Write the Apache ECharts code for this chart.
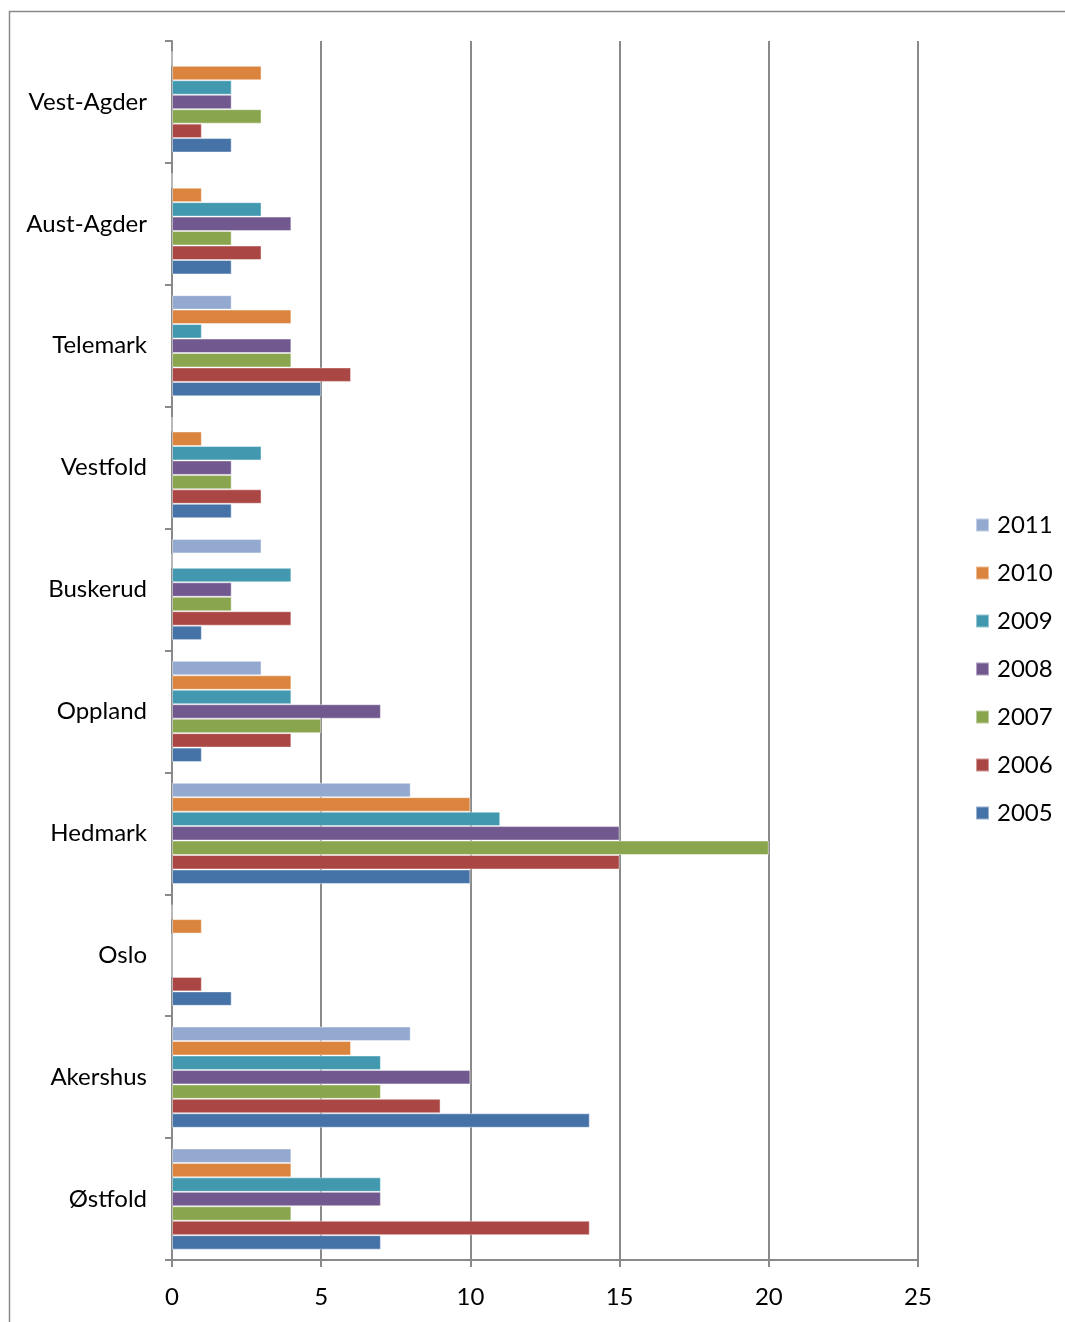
<!DOCTYPE html>
<html>
<head>
<meta charset="utf-8">
<script src="https://cdn.jsdelivr.net/npm/echarts@6/dist/echarts.min.js"></script>
<style>
  html, body { margin: 0; padding: 0; background: #fff; }
  #chart { width: 1065px; height: 1322px; }
</style>
</head>
<body>
<div id="chart"></div>
<script>
// Counties, listed from the bottom of the axis to the top
const regions = ['Østfold', 'Akershus', 'Oslo', 'Hedmark', 'Oppland', 'Buskerud', 'Vestfold', 'Telemark', 'Aust-Agder', 'Vest-Agder'];

// Yearly counts per county (same order as regions)
const y2005 = [7, 14, 2, 10, 1, 1, 2, 5, 2, 2];
const y2006 = [14, 9, 1, 15, 4, 4, 3, 6, 3, 1];
const y2007 = [4, 7, 0, 20, 5, 2, 2, 4, 2, 3];
const y2008 = [7, 10, 0, 15, 7, 2, 2, 4, 4, 2];
const y2009 = [7, 7, 0, 11, 4, 4, 3, 1, 3, 2];
const y2010 = [4, 6, 1, 10, 4, 0, 1, 4, 1, 3];
const y2011 = [4, 8, 0, 8, 3, 3, 0, 2, 0, 0];

const years = ['2005', '2006', '2007', '2008', '2009', '2010', '2011'];
const yearValues = [y2005, y2006, y2007, y2008, y2009, y2010, y2011];
const yearColors = ['#4572A7', '#AA4643', '#89A54E', '#71588F', '#4198AF', '#DB843D', '#93A9CF'];

const xTicks = { min: 0, max: 25, interval: 5 };

const FONT = 'Lato, "Open Sans", sans-serif';

// Within each county the newest year sits on top, so series are added newest first
const order = years.map((_, i) => i).reverse();

const chart = echarts.init(document.getElementById('chart'), null, { renderer: 'canvas' });

chart.setOption({
  backgroundColor: '#ffffff',
  animation: false,
  textStyle: { fontFamily: FONT },
  graphic: [{
    type: 'rect',
    shape: { x: 9.5, y: 11.5, width: 1100, height: 1400 },
    style: { fill: 'none', stroke: '#8a8a8a', lineWidth: 1.5 },
    silent: true
  }],
  grid: { left: 172, right: 147, top: 41, bottom: 62 },
  legend: {
    orient: 'vertical',
    left: 970,
    top: 508,
    itemWidth: 13,
    itemHeight: 13,
    itemGap: 24,
    icon: 'rect',
    data: years.slice().reverse(),
    textStyle: { fontFamily: FONT, fontSize: 24, lineHeight: 24, color: '#000', padding: [0, 0, 0, 3] }
  },
  xAxis: {
    type: 'value',
    min: xTicks.min,
    max: xTicks.max,
    interval: xTicks.interval,
    axisLine: { show: true, lineStyle: { color: '#8a8a8a', width: 2 } },
    axisTick: { show: true, length: 7, lineStyle: { color: '#8a8a8a', width: 2 } },
    axisLabel: { margin: 25, fontSize: 24, color: '#000', fontFamily: FONT },
    splitLine: { show: true, lineStyle: { color: '#8a8a8a', width: 2 } }
  },
  yAxis: {
    type: 'category',
    data: regions,
    axisLine: { show: true, lineStyle: { color: '#8a8a8a', width: 2 } },
    axisTick: { show: true, length: 7, alignWithLabel: false, lineStyle: { color: '#8a8a8a', width: 2 } },
    axisLabel: { margin: 25, fontSize: 24, color: '#000', fontFamily: FONT },
    splitLine: { show: false }
  },
  series: order.map(i => ({
    name: years[i],
    type: 'bar',
    data: yearValues[i],
    barGap: '0%',
    barCategoryGap: '17%',
    itemStyle: { color: yearColors[i], borderColor: 'rgba(255,255,255,0.45)', borderWidth: 1 }
  }))
});
</script>
</body>
</html>
